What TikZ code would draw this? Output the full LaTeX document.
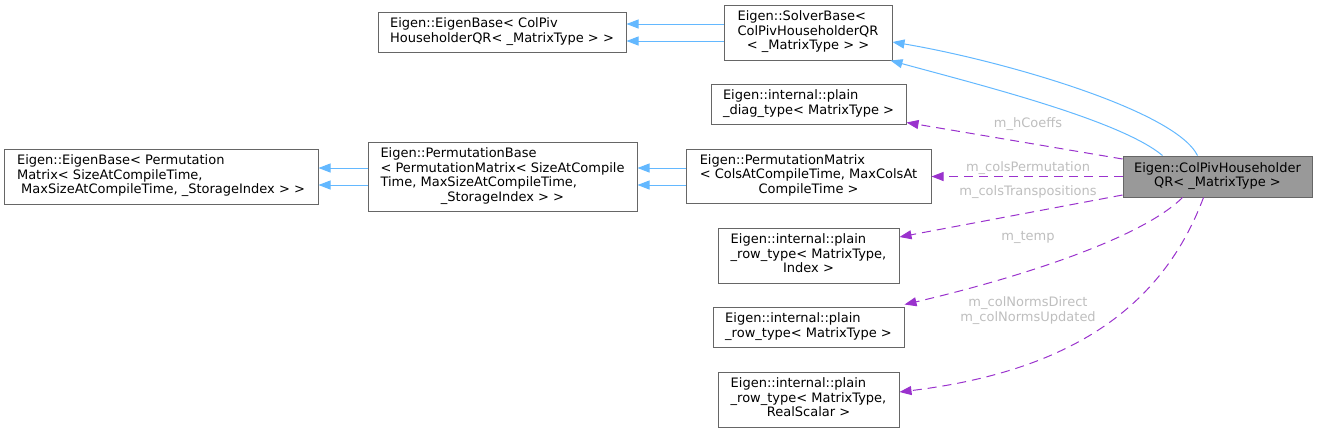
\documentclass[tikz,border=0pt]{standalone}
\usepackage{fontspec}
\setmainfont{DejaVu Sans}
\usetikzlibrary{arrows.meta}
\definecolor{edgeblue}{HTML}{63B8FF}
\definecolor{edgepurple}{HTML}{9A32CD}
\definecolor{boxborder}{HTML}{666666}
\definecolor{boxfill}{HTML}{999999}
\definecolor{labelgray}{HTML}{BEBEBE}
\newcommand{\ctrline}[1]{\multicolumn{1}{@{}c@{}}{#1}}
\tikzset{
  cls/.style={draw=boxborder, fill=white, line width=1pt, inner sep=0pt,
    font=\fontsize{13}{14.5}\selectfont, text=black},
  inherit/.style={draw=edgeblue, line width=1pt, -{Triangle[length=12pt,width=9pt]}},
  member/.style={draw=edgepurple, line width=1pt, dash pattern=on 9pt off 6pt,
    -{Triangle[length=12pt,width=9pt]}},
  elabel/.style={text=labelgray, inner sep=0pt, align=center,
    font=\fontsize{13}{14.5}\selectfont}
}
\begin{document}
\begin{tikzpicture}[x=1pt,y=-1pt]
\useasboundingbox (0,0) rectangle (1317,432);

% nodes
\node[cls, minimum width=248pt, minimum height=40pt] (eb1) at (502,32)
  {\begin{tabular}{@{}l@{}}Eigen::EigenBase< ColPiv\\HouseholderQR< \_MatrixType > >\end{tabular}};
\node[cls, minimum width=168pt, minimum height=55pt] (sb) at (808,32.5)
  {\begin{tabular}{@{}l@{}}Eigen::SolverBase<\\\ctrline{ColPivHouseholderQR}\\\ctrline{< \_MatrixType > >}\end{tabular}};
\node[cls, minimum width=195pt, minimum height=40pt] (diag) at (808.5,104)
  {\begin{tabular}{@{}l@{}}Eigen::internal::plain\\\_diag\_type< MatrixType >\end{tabular}};
\node[cls, minimum width=314pt, minimum height=55pt] (eb2) at (161,176.5)
  {\begin{tabular}{@{}l@{}}Eigen::EigenBase< Permutation\\Matrix< SizeAtCompileTime,\\\ MaxSizeAtCompileTime, \_StorageIndex > >\end{tabular}};
\node[cls, minimum width=269pt, minimum height=69pt] (pb) at (502.5,176.5)
  {\begin{tabular}{@{}l@{}}Eigen::PermutationBase\\< PermutationMatrix< SizeAtCompile\\Time, MaxSizeAtCompileTime,\\\ctrline{\_StorageIndex > >}\end{tabular}};
\node[cls, minimum width=245pt, minimum height=54pt] (pm) at (808.5,176)
  {\begin{tabular}{@{}l@{}}Eigen::PermutationMatrix\\< ColsAtCompileTime, MaxColsAt\\\ctrline{CompileTime >}\end{tabular}};
\node[cls, fill=boxfill, minimum width=189pt, minimum height=41pt] (cp) at (1217.5,176.5)
  {\begin{tabular}{@{}c@{}}Eigen::ColPivHouseholder\\QR< \_MatrixType >\end{tabular}};
\node[cls, minimum width=181pt, minimum height=55pt] (ri) at (808.5,255.5)
  {\begin{tabular}{@{}l@{}}Eigen::internal::plain\\\_row\_type< MatrixType,\\\ctrline{Index >}\end{tabular}};
\node[cls, minimum width=191pt, minimum height=40pt] (rm) at (808.5,327)
  {\begin{tabular}{@{}l@{}}Eigen::internal::plain\\\_row\_type< MatrixType >\end{tabular}};
\node[cls, minimum width=181pt, minimum height=55pt] (rs) at (808.5,399.5)
  {\begin{tabular}{@{}l@{}}Eigen::internal::plain\\\_row\_type< MatrixType,\\\ctrline{RealScalar >}\end{tabular}};

% inheritance
\draw[inherit] ([yshift=8.5pt]sb.west) -- ([yshift=8pt]eb1.east);
\draw[inherit] ([yshift=-8.5pt]sb.west) -- ([yshift=-9pt]eb1.east);
\draw[inherit] ([yshift=8pt]pm.west) -- ([yshift=8.5pt]pb.east);
\draw[inherit] ([yshift=-9pt]pm.west) -- ([yshift=-8.5pt]pb.east);
\draw[inherit] ([yshift=8.5pt]pb.west) -- ([yshift=8.5pt]eb2.east);
\draw[inherit] ([yshift=-8.5pt]pb.west) -- ([yshift=-8.5pt]eb2.east);
\draw[inherit] ([xshift=-20pt]cp.north) .. controls (1175,110) and (1000,60) .. ([yshift=-9.5pt]sb.east);
\draw[inherit] ([xshift=-55pt]cp.north) .. controls (1120,120) and (980,85) .. ([xshift=-2pt]sb.south east);

% members
\draw[member] ([yshift=17.5pt]cp.west) -- ([yshift=2pt]diag.south east);
\draw[member] (cp.west) -- (pm.east |- cp.west);
\draw[member] ([yshift=-18.5pt]cp.west) -- ([yshift=18.5pt]ri.east);
\draw[member] ([xshift=-35pt]cp.south) .. controls (1140,240) and (1010,280) .. ([yshift=2pt]rm.north east);
\draw[member] ([xshift=-14pt]cp.south) .. controls (1165,300) and (1080,370) .. ([yshift=7.5pt]rs.east);

% labels
\node[elabel] (l1) at (1028,124) {m\_hCoeffs};
\node[elabel] (l2) at (1028,168) {m\_colsPermutation};
\node[elabel] (l3) at (1028,192) {m\_colsTranspositions};
\node[elabel] (l4) at (1028,237) {m\_temp};
\node[elabel] (l5) at (1028,310.5) {m\_colNormsDirect\\m\_colNormsUpdated};
\end{tikzpicture}
\end{document}
